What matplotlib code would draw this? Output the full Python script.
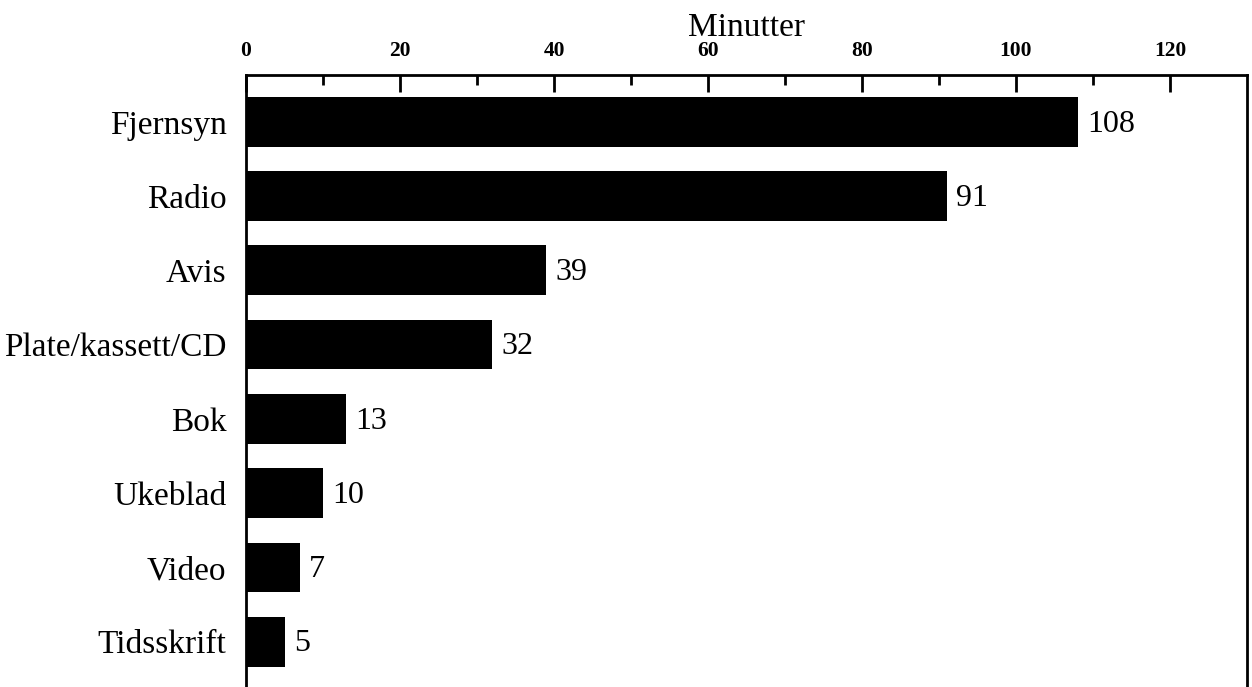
import matplotlib.pyplot as plt
import numpy as np

# mediebruk, minutter per dag
kategorier = ["Fjernsyn", "Radio", "Avis", "Plate/kassett/CD",
              "Bok", "Ukeblad", "Video", "Tidsskrift"]
minutter = [108, 91, 39, 32, 13, 10, 7, 5]
major_ticks = [0, 20, 40, 60, 80, 100, 120]

plt.rcParams['font.family'] = ['Liberation Serif', 'DejaVu Serif']


def main():
    fig = plt.figure(figsize=(12.52, 6.87), dpi=100)
    ax = fig.add_axes([0.1965, 0.0, 0.7995, 0.8908])

    y = np.arange(len(kategorier))
    ax.barh(y, minutter, height=0.67, color='black')

    for yi, v in zip(y, minutter):
        ax.text(v + 1.2, yi + 0.03, str(v), va='center', ha='left', fontsize=23)

    ax.set_xlim(0, 130)
    ax.set_ylim(7.61, -0.63)

    ax.set_yticks(y)
    ax.set_yticklabels(kategorier, fontsize=24)
    ax.tick_params(axis='y', length=0, pad=14)

    ax.xaxis.tick_top()
    ax.xaxis.set_label_position('top')
    ax.set_xticks(major_ticks)
    ax.set_xticks(np.arange(10, 130, 20), minor=True)
    ax.set_xticklabels([str(t) for t in major_ticks], fontsize=15.5,
                       fontweight='bold')
    ax.tick_params(axis='x', which='major', direction='in', length=12,
                   width=2, pad=10)
    ax.tick_params(axis='x', which='minor', direction='in', length=7,
                   width=2)
    ax.set_xlabel("Minutter", fontsize=24, labelpad=4)

    ax.spines['bottom'].set_visible(False)
    for s in ['top', 'left', 'right']:
        ax.spines[s].set_linewidth(2)

    fig.savefig("out.png", dpi=100)


main()
